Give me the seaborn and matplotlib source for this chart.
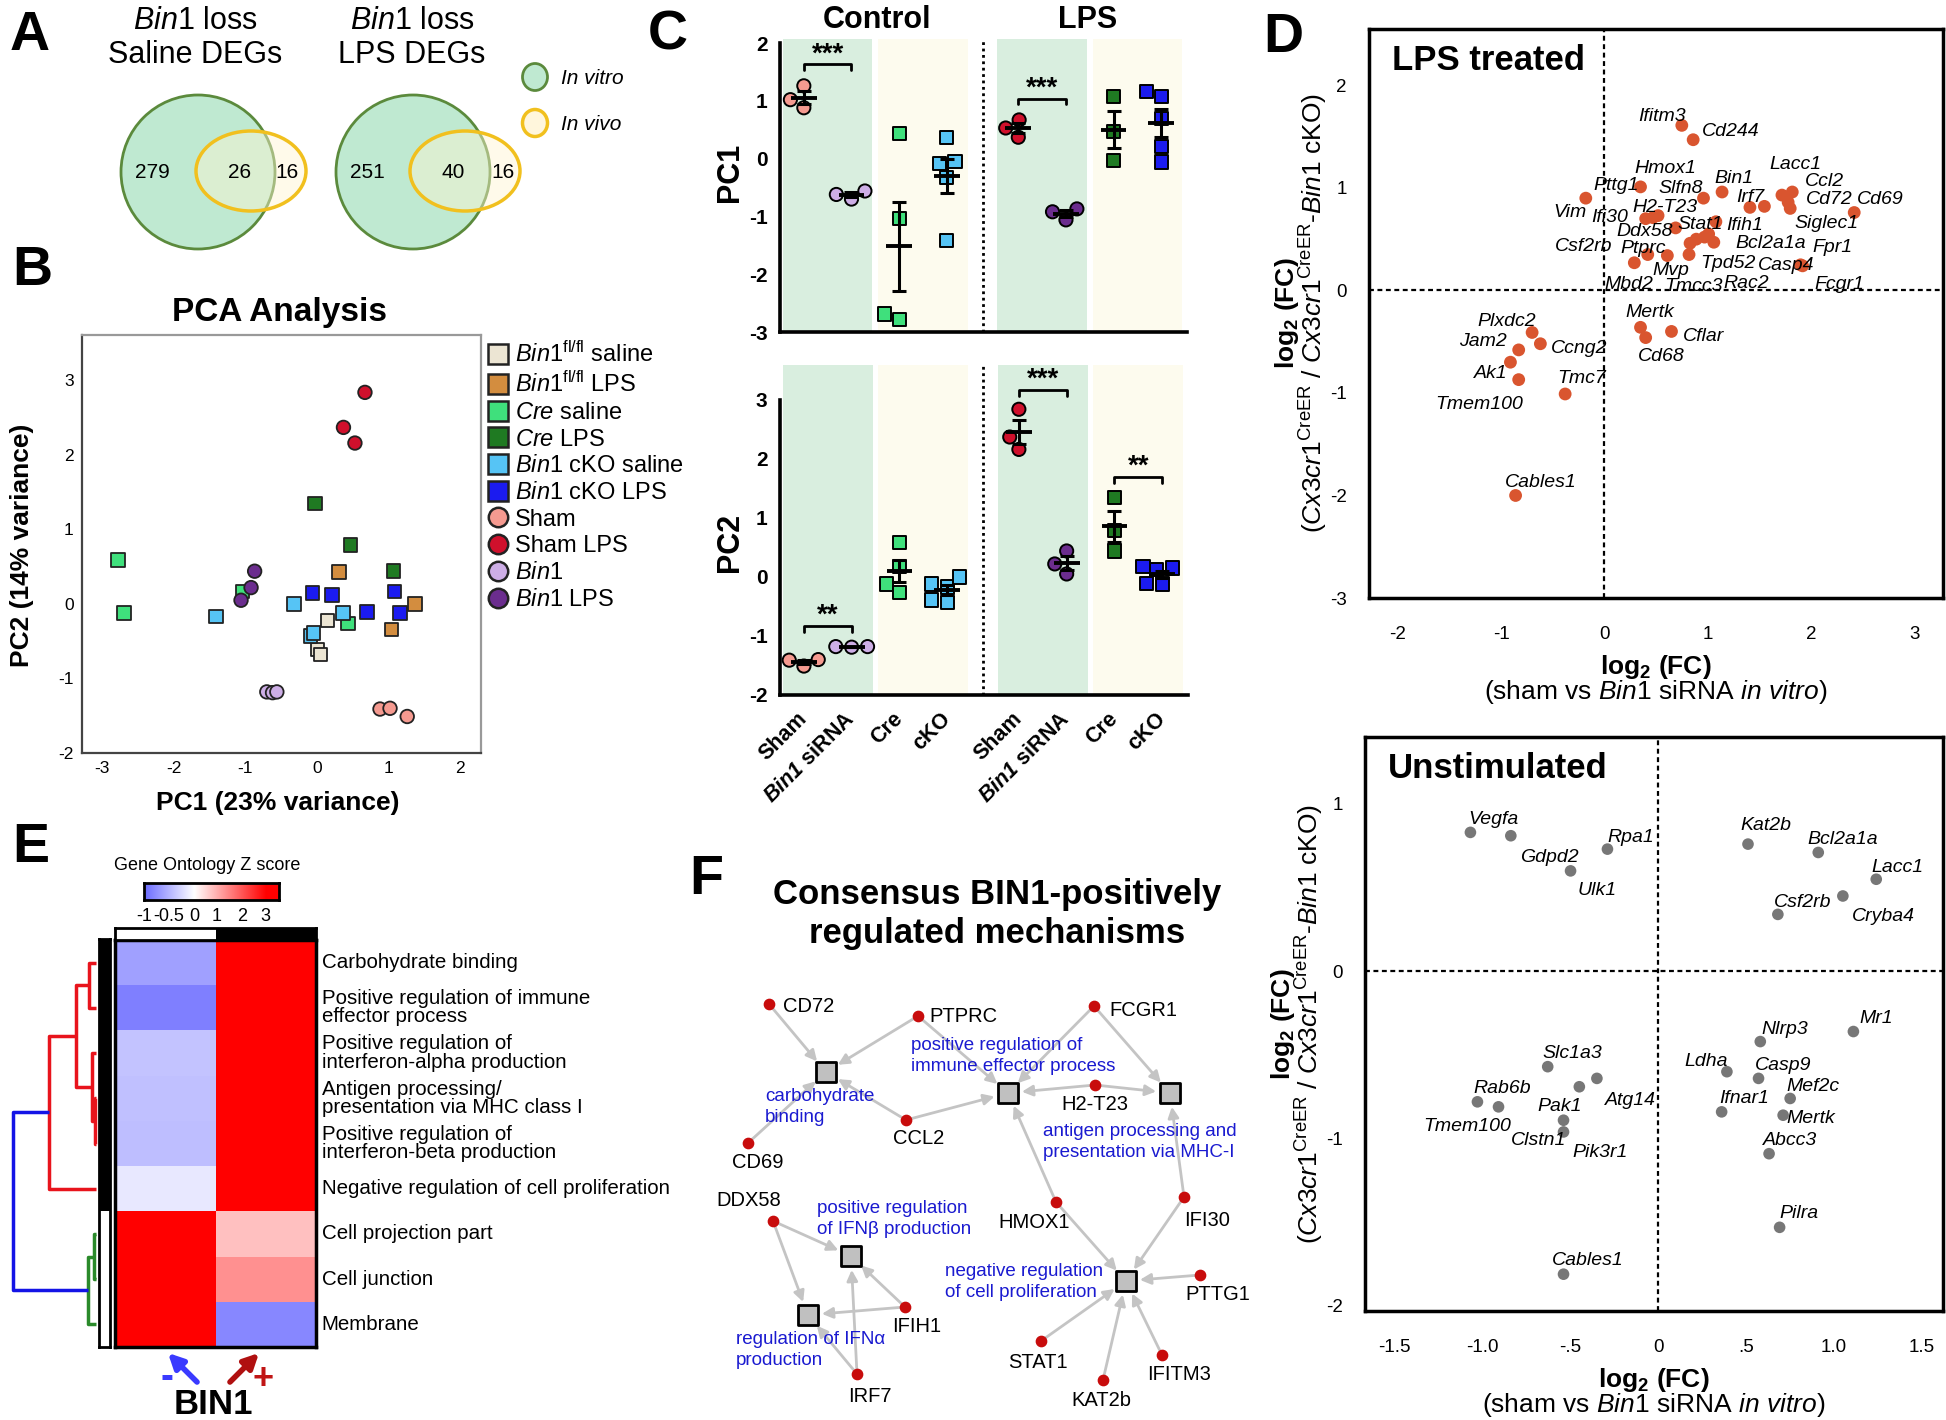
import numpy as np
import pandas as pd
import matplotlib
matplotlib.use("Agg")
import matplotlib.pyplot as plt
import seaborn as sns
from matplotlib.patches import Ellipse
from matplotlib.lines import Line2D
from matplotlib.colors import LinearSegmentedColormap, ListedColormap

sns.set_theme(style="white")
plt.rcParams["font.family"] = ["Liberation Sans", "DejaVu Sans"]
plt.rcParams["mathtext.fontset"] = "custom"
plt.rcParams["mathtext.rm"] = "Liberation Sans"
plt.rcParams["mathtext.it"] = "Liberation Sans:italic"
plt.rcParams["mathtext.bf"] = "Liberation Sans:bold"
plt.rcParams["mathtext.bfit"] = "Liberation Sans:italic:bold"
plt.rcParams["mathtext.sf"] = "Liberation Sans"
plt.rcParams["axes.unicode_minus"] = False
for k in ["text.color", "axes.labelcolor", "xtick.color", "ytick.color", "axes.edgecolor"]:
    plt.rcParams[k] = "black"

W, H = 1946, 1420

# ---------------- data ----------------
# A: DEG overlap in vitro / in vivo
venn_titles = [r"$\mathit{Bin1}$ loss" + "\nSaline DEGs", r"$\mathit{Bin1}$ loss" + "\nLPS DEGs"]
venn_vitro_only = [279, 251]
venn_shared = [26, 40]
venn_vivo_only = [16, 16]

# B / C: PCA coordinates per group
groups = ["fl saline", "fl LPS", "Cre saline", "Cre LPS", "cKO saline",
          "cKO LPS", "Sham", "Sham LPS", "Bin1", "Bin1 LPS"]
group_labels = [r"$\mathit{Bin1}^{\mathrm{fl/fl}}$ saline", r"$\mathit{Bin1}^{\mathrm{fl/fl}}$ LPS",
                r"$\mathit{Cre}$ saline", r"$\mathit{Cre}$ LPS", r"$\mathit{Bin1}$ cKO saline",
                r"$\mathit{Bin1}$ cKO LPS", "Sham", "Sham LPS", r"$\mathit{Bin1}$", r"$\mathit{Bin1}$ LPS"]
pc1_values = [[0.15, 0.01, 0.05], [0.31, 1.37, 1.04], [-2.78, -2.69, -1.04, 0.43],
              [-0.03, 0.47, 1.07], [-1.41, -0.32, 0.36, -0.09, -0.05],
              [-0.06, 0.21, 1.08, 0.70, 1.16], [0.88, 1.02, 1.26], [0.67, 0.37, 0.53],
              [-0.70, -0.62, -0.56], [-0.87, -0.92, -1.06]]
pc2_values = [[-0.22, -0.61, -0.68], [0.43, 0.00, -0.34], [0.59, -0.12, 0.17, -0.26],
              [1.35, 0.79, 0.44], [-0.17, 0.00, -0.12, -0.43, -0.39],
              [0.15, 0.12, 0.17, -0.11, -0.12], [-1.41, -1.40, -1.51], [2.84, 2.37, 2.16],
              [-1.18, -1.19, -1.18], [0.44, 0.22, 0.05]]
group_colors = ["#ece5d3", "#d38d3f", "#3fe07c", "#1f7a22", "#56c4f5",
                "#1b1bf0", "#f59a90", "#d0102c", "#cdaee6", "#6b2d8e"]
group_markers = ["s"] * 6 + ["o"] * 4

c_groups = ["Sham", "Bin1", "Cre saline", "cKO saline", "Sham LPS", "Bin1 LPS", "Cre LPS", "cKO LPS"]
c_ticklabels = ["Sham", r"$\mathbfit{Bin1}$ siRNA", "Cre", "cKO"] * 2
c_sig_pc1 = [("Sham", "Bin1", "***"), ("Sham LPS", "Bin1 LPS", "***")]
c_sig_pc2 = [("Sham", "Bin1", "**"), ("Sham LPS", "Bin1 LPS", "***"), ("Cre LPS", "cKO LPS", "**")]

# D: log2 fold changes
lps_genes = ["Ifitm3", "Cd244", "Pttg1", "Vim", "Slfn8", "Bin1", "Irf7", "Ifih1", "Lacc1", "Ccl2",
             "Cd72", "Siglec1", "Cd69", "H2-T23", "Hmox1", "Ifi30", "Ddx58", "Stat1", "Bcl2a1a",
             "Tpd52", "Rac2", "Fpr1", "Tmcc3", "Ptprc", "Mvp", "Csf2rb", "Mbd2", "Casp4", "Fcgr1",
             "Mertk", "Cd68", "Cflar", "Plxdc2", "Ccng2", "Jam2", "Tmem100", "Ak1", "Tmc7", "Cables1"]
lps_x = [0.75, 0.86, 0.35, -0.18, 0.96, 1.14, 1.41, 1.55, 1.72, 1.82, 1.78, 1.80, 2.42, 0.47, 0.52,
         0.40, 0.69, 1.08, 1.06, 0.83, 0.89, 0.97, 1.01, 0.42, 0.61, 0.29, 0.82, 1.92, 1.90,
         0.35, 0.40, 0.65, -0.70, -0.62, -0.83, -0.91, -0.83, -0.38, -0.86]
lps_y = [1.61, 1.47, 1.01, 0.90, 0.90, 0.96, 0.81, 0.82, 0.93, 0.96, 0.86, 0.80, 0.76, 0.71, 0.73,
         0.70, 0.61, 0.67, 0.47, 0.46, 0.50, 0.52, 0.55, 0.35, 0.34, 0.27, 0.35, 0.24, 0.25,
         -0.36, -0.46, -0.40, -0.41, -0.52, -0.58, -0.70, -0.87, -1.01, -2.00]

unstim_genes = ["Vegfa", "Gdpd2", "Rpa1", "Ulk1", "Kat2b", "Bcl2a1a", "Lacc1", "Cryba4", "Csf2rb",
                "Mr1", "Nlrp3", "Ldha", "Casp9", "Mef2c", "Ifnar1", "Mertk", "Abcc3", "Pilra",
                "Slc1a3", "Atg14", "Pak1", "Rab6b", "Tmem100", "Pik3r1", "Clstn1", "Cables1"]
unstim_x = [-1.07, -0.84, -0.29, -0.50, 0.51, 0.91, 1.24, 1.05, 0.68, 1.11, 0.58, 0.39, 0.57,
            0.75, 0.36, 0.71, 0.63, 0.69, -0.63, -0.35, -0.45, -1.03, -0.91, -0.54, -0.54, -0.54]
unstim_y = [0.83, 0.81, 0.73, 0.60, 0.76, 0.71, 0.55, 0.45, 0.34, -0.36, -0.42, -0.60, -0.64,
            -0.76, -0.84, -0.86, -1.09, -1.53, -0.57, -0.64, -0.69, -0.78, -0.81, -0.89, -0.96, -1.81]

# E: GO z-scores (BIN1 - / BIN1 +)
go_terms = ["Carbohydrate binding", "Positive regulation of immune\neffector process",
            "Positive regulation of\ninterferon-alpha production",
            "Antigen processing/\npresentation via MHC class I",
            "Positive regulation of\ninterferon-beta production",
            "Negative regulation of cell proliferation", "Cell projection part",
            "Cell junction", "Membrane"]
z_bin1_neg = [-0.64, -0.86, -0.40, -0.42, -0.43, -0.15, 3.5, 3.5, 3.5]
z_bin1_pos = [3.5, 3.5, 3.5, 3.5, 3.5, 3.5, 0.77, 1.32, -0.80]
cbar_values = [-1, -0.5, 0, 1, 2, 3]
# hierarchical merges: (child a, child b, height)
dendro_merges = [(0, 1, 7.0), (3, 4, 1.5), (2, 10, 4.0), (9, 11, 20.0), (12, 5, 47.0),
                 (6, 7, 2.0), (14, 8, 8.0), (13, 15, 83.0)]

# F: network
f_genes = ["CD72", "PTPRC", "FCGR1", "CCL2", "H2-T23", "CD69", "DDX58", "HMOX1", "IFI30",
           "IFIH1", "IRF7", "PTTG1", "STAT1", "KAT2b", "IFITM3"]
f_terms = ["carbohydrate\nbinding", "positive regulation of\nimmune effector process",
           "antigen processing and\npresentation via MHC-I", "positive regulation\nof IFNβ production",
           "regulation of IFNα\nproduction", "negative regulation\nof cell proliferation"]
f_edges = [("CD72", 0), ("PTPRC", 0), ("PTPRC", 1), ("CCL2", 0), ("CCL2", 1), ("CD69", 0),
           ("FCGR1", 1), ("FCGR1", 2), ("H2-T23", 1), ("H2-T23", 2), ("HMOX1", 1), ("HMOX1", 5),
           ("IFI30", 2), ("IFI30", 5), ("DDX58", 3), ("DDX58", 4), ("IFIH1", 3), ("IFIH1", 4),
           ("IRF7", 3), ("IRF7", 4), ("PTTG1", 5), ("STAT1", 5), ("KAT2b", 5), ("IFITM3", 5)]

# ---------------- layout (pixels) ----------------
lps_label_pos = {"Ifitm3": (0.56, 1.70), "Cd244": (1.22, 1.55), "Hmox1": (0.59, 1.19),
                 "Pttg1": (0.11, 1.02), "Slfn8": (0.74, 0.99), "Bin1": (1.26, 1.09),
                 "Lacc1": (1.85, 1.23), "Ccl2": (2.13, 1.06), "Irf7": (1.41, 0.91),
                 "Cd72": (2.18, 0.89), "Cd69": (2.67, 0.89), "Vim": (-0.33, 0.76),
                 "Ifi30": (0.05, 0.71), "H2-T23": (0.59, 0.81), "Stat1": (0.93, 0.64),
                 "Ifih1": (1.36, 0.63), "Siglec1": (2.15, 0.65), "Ddx58": (0.39, 0.57),
                 "Bcl2a1a": (1.61, 0.46), "Fpr1": (2.21, 0.42), "Csf2rb": (-0.20, 0.43),
                 "Ptprc": (0.38, 0.41), "Tpd52": (1.20, 0.26), "Casp4": (1.76, 0.24),
                 "Mvp": (0.64, 0.19), "Mbd2": (0.24, 0.06), "Tmcc3": (0.86, 0.04),
                 "Rac2": (1.37, 0.07), "Fcgr1": (2.28, 0.06), "Mertk": (0.44, -0.22),
                 "Cflar": (0.96, -0.45), "Cd68": (0.55, -0.64), "Plxdc2": (-0.95, -0.30),
                 "Jam2": (-1.18, -0.50), "Ccng2": (-0.24, -0.57), "Ak1": (-1.10, -0.81),
                 "Tmc7": (-0.22, -0.86), "Tmem100": (-1.21, -1.11), "Cables1": (-0.62, -1.87)}
unstim_label_pos = {"Vegfa": (-0.94, 0.91), "Gdpd2": (-0.62, 0.68), "Rpa1": (-0.16, 0.80),
                    "Ulk1": (-0.35, 0.48), "Kat2b": (0.61, 0.87), "Bcl2a1a": (1.05, 0.79),
                    "Lacc1": (1.36, 0.62), "Csf2rb": (0.82, 0.41), "Cryba4": (1.28, 0.33),
                    "Mr1": (1.24, -0.28), "Nlrp3": (0.72, -0.35), "Ldha": (0.27, -0.54),
                    "Casp9": (0.71, -0.56), "Mef2c": (0.88, -0.69), "Ifnar1": (0.49, -0.76),
                    "Mertk": (0.87, -0.88), "Abcc3": (0.75, -1.01), "Pilra": (0.80, -1.45),
                    "Slc1a3": (-0.49, -0.49), "Rab6b": (-0.89, -0.70), "Pak1": (-0.56, -0.81),
                    "Atg14": (-0.16, -0.77), "Tmem100": (-1.09, -0.93), "Clstn1": (-0.68, -1.01),
                    "Pik3r1": (-0.33, -1.08), "Cables1": (-0.40, -1.73)}
c_positions = dict(zip(c_groups, [0, 1, 2, 3, 4.5, 5.5, 6.5, 7.5]))
gene_xy = {"CD72": (769, 1004), "PTPRC": (918, 1016), "FCGR1": (1094, 1006), "CCL2": (906, 1120),
           "H2-T23": (1095, 1085), "CD69": (748, 1143), "DDX58": (773, 1221), "HMOX1": (1056, 1202),
           "IFI30": (1184, 1197), "IFIH1": (905, 1307), "IRF7": (857, 1374), "PTTG1": (1200, 1275),
           "STAT1": (1041, 1341), "KAT2b": (1103, 1380), "IFITM3": (1162, 1355)}
gene_label_xy = {"CD72": (783, 1006, "left"), "PTPRC": (929, 1016, "left"), "FCGR1": (1109, 1010, "left"),
                 "CCL2": (919, 1139, "center"), "H2-T23": (1095, 1104, "center"),
                 "CD69": (758, 1163, "center"), "DDX58": (749, 1201, "center"),
                 "HMOX1": (1034, 1222, "center"), "IFI30": (1207, 1221, "center"),
                 "IFIH1": (917, 1326, "center"), "IRF7": (870, 1396, "center"),
                 "PTTG1": (1218, 1295, "center"), "STAT1": (1038, 1362, "center"),
                 "KAT2b": (1101, 1400, "center"), "IFITM3": (1179, 1374, "center")}
term_xy = [(826, 1072), (1008, 1093), (1170, 1093), (851, 1256), (808, 1315), (1126, 1281)]
term_label_xy = [(765, 1107), (911, 1056), (1043, 1142), (817, 1219), (736, 1350), (945, 1282)]

fig = plt.figure(figsize=(W / 100, H / 100), dpi=100)


def px_axes(x0, y0, x1, y1):
    return fig.add_axes([x0 / W, 1 - y1 / H, (x1 - x0) / W, (y1 - y0) / H])


ov = px_axes(0, 0, W, H)
ov.set_xlim(0, W)
ov.set_ylim(H, 0)
ov.axis("off")
ov.patch.set_visible(False)
ov.set_zorder(10)

# panel letters
for letter, (lx, ly) in zip("ABCDEF", [(10, 50), (12, 285), (648, 50), (1263, 52), (12, 862), (689, 894)]):
    ov.text(lx, ly, letter, fontsize=40, fontweight="bold", va="baseline", ha="left")

# ---------------- A ----------------
green_cx, yellow_cx, venn_cy = [198, 413], [251, 465], 172
num_x = [[152, 240, 287], [367, 453, 503]]
for i in range(2):
    ov.add_patch(Ellipse((green_cx[i], venn_cy), 154, 154, facecolor="#bfe9d1", edgecolor="#5b8a3c", lw=2))
    ov.add_patch(Ellipse((yellow_cx[i], venn_cy - 1), 110, 80, facecolor=(1.0, 0.96, 0.82, 0.45),
                         edgecolor="#f1c01e", lw=2.5))
    ov.text([195, 412][i], 38, venn_titles[i], ha="center", va="center", fontsize=22, linespacing=1.15)
    for xx, val in zip(num_x[i], [venn_vitro_only[i], venn_shared[i], venn_vivo_only[i]]):
        ov.text(xx, venn_cy + 1, str(val), ha="center", va="center", fontsize=15)
ov.add_patch(Ellipse((535, 77), 25, 27, facecolor="#bfe9d1", edgecolor="#5b8a3c", lw=2))
ov.add_patch(Ellipse((535, 123), 25, 27, facecolor="#fff6dc", edgecolor="#f1c01e", lw=2.5))
ov.text(561, 78, "In vitro", style="italic", fontsize=15, va="center")
ov.text(561, 124, "In vivo", style="italic", fontsize=15, va="center")

# ---------------- B ----------------
pca_df = pd.DataFrame([{"group": g, "pc1": x, "pc2": y}
                       for g, xs, ys in zip(groups, pc1_values, pc2_values)
                       for x, y in zip(xs, ys)])
pal = dict(zip(groups, group_colors))
mk = dict(zip(groups, group_markers))

ax_b = px_axes(82, 335, 481, 753)
sns.scatterplot(data=pca_df, x="pc1", y="pc2", hue="group", style="group", palette=pal,
                markers=mk, s=95, edgecolor="#222222", linewidth=1.3, legend=False, ax=ax_b, zorder=3)
ax_b.set_xlim(-3.28, 2.29)
ax_b.set_ylim(-2.0, 3.61)
ax_b.set_xticks(range(-3, 3))
ax_b.set_yticks(range(-2, 4))
ax_b.set_xlabel("")
ax_b.set_ylabel("")
ax_b.tick_params(labelsize=12.5, length=0, pad=6)
for side, col in [("left", "#444444"), ("bottom", "#444444"), ("top", "#999999"), ("right", "#999999")]:
    ax_b.spines[side].set_color(col)
    ax_b.spines[side].set_linewidth(1.6)
handles = [Line2D([], [], ls="", marker=m, markersize=14, markerfacecolor=c,
                  markeredgecolor="#222222", markeredgewidth=1.8)
           for m, c in zip(group_markers, group_colors)]
ax_b.legend(handles, group_labels, loc="upper left", bbox_to_anchor=(490 / W, 1 - 342 / H),
            bbox_transform=fig.transFigure, frameon=False, fontsize=17, handlelength=0.7,
            handletextpad=0.35, labelspacing=0.2, borderaxespad=0, borderpad=0)
ov.text(279, 313, "PCA Analysis", ha="center", va="center", fontsize=24, fontweight="bold")
ov.text(278, 803, "PC1 (23% variance)", ha="center", va="center", fontsize=19, fontweight="bold")
ov.text(22, 545, "PC2 (14% variance)", ha="center", va="center", fontsize=19, fontweight="bold",
        rotation=90)

# ---------------- C ----------------
cdf = pca_df[pca_df["group"].isin(c_groups)].copy()
cdf["pos"] = cdf["group"].map(c_positions)
cdf["marker"] = cdf["group"].map(mk)
ax_c1 = px_axes(780, 39, 1187, 332)
ax_c2 = px_axes(780, 365, 1188, 695)
band_pairs = [(0, 1, "#d9eedf"), (2, 3, "#fdfbee"), (4.5, 5.5, "#d9eedf"), (6.5, 7.5, "#fdfbee")]
for ax, col, ylim, sigs, sig_y in [(ax_c1, "pc1", (-3, 2.07), c_sig_pc1, [1.63, 1.04]),
                                   (ax_c2, "pc2", (-2, 3.59), c_sig_pc2, [-0.83, 3.17, 1.69])]:
    for a, b, colr in band_pairs:
        ax.axvspan(a - 0.44, b + 0.44, color=colr, lw=0, zorder=0)
    ax.axvline(3.75, color="black", ls=(0, (1, 1.3)), lw=2, zorder=1)
    for m in ("o", "s"):
        sub = cdf[cdf["marker"] == m]
        sns.swarmplot(data=sub, x="pos", y=col, hue="group", palette=pal, native_scale=True,
                      marker=m, size=9.5, linewidth=1.4, edgecolor="black", legend=False,
                      ax=ax, zorder=3)
    stats = cdf.groupby("group")[col].agg(["mean", "sem"])
    for g, p in c_positions.items():
        mval, sval = stats.loc[g, "mean"], stats.loc[g, "sem"]
        ax.plot([p - 0.27, p + 0.27], [mval, mval], color="black", lw=2.8, zorder=4,
                solid_capstyle="butt")
        ax.errorbar(p, mval, yerr=sval, fmt="none", ecolor="black", elinewidth=2.2,
                    capsize=5, capthick=2.2, zorder=4)
    for (ga, gb, stars), yy in zip(sigs, sig_y):
        a, b = c_positions[ga], c_positions[gb]
        arm = 0.09 * (ylim[1] - ylim[0]) / 5
        ax.plot([a, a, b, b], [yy - arm, yy, yy, yy - arm], color="black", lw=2, zorder=4)
        ax.text((a + b) / 2, yy - 0.05, stars, ha="center", va="bottom", fontsize=20,
                fontweight="bold", zorder=5)
    ax.set_xlim(-0.5, 8.04)
    ax.set_ylim(*ylim)
    ax.set_yticks(range(int(ylim[0]), int(ylim[0]) + 6))
    ax.set_xticks(list(c_positions.values()))
    ax.set_xlabel("")
    ax.set_ylabel("")
    sns.despine(ax=ax)
    ax.spines["left"].set_bounds(ylim[0], ylim[0] + 5)
    for s in ("left", "bottom"):
        ax.spines[s].set_linewidth(2.6)
        ax.spines[s].set_color("black")
    ax.tick_params(axis="both", direction="out", length=6, width=2.5, labelsize=15, pad=3)
    ax.tick_params(axis="x", length=7)
    for lbl in ax.get_yticklabels():
        lbl.set_fontweight("bold")
ax_c1.set_xticklabels([])
ax_c2.set_xticklabels(c_ticklabels, rotation=45, ha="right", va="center",
                      rotation_mode="anchor", fontsize=15.5, fontweight="bold")
ax_c2.tick_params(axis="x", pad=8)
ov.text(877, 20, "Control", ha="center", va="center", fontsize=22, fontweight="bold")
ov.text(1088, 20, "LPS", ha="center", va="center", fontsize=22, fontweight="bold")
ov.text(730, 172, "PC1", ha="center", va="center", fontsize=22, fontweight="bold", rotation=90)
ov.text(730, 542, "PC2", ha="center", va="center", fontsize=22, fontweight="bold", rotation=90)

# ---------------- D ----------------
ylab2 = (r"($\mathit{Cx3cr1}^{\mathrm{CreER}}$ / $\mathit{Cx3cr1}^{\mathrm{CreER}}$-"
         r"$\mathit{Bin1}$ cKO)")
xlab2 = r"(sham vs $\mathit{Bin1}$ siRNA $\mathit{in\ vitro}$)"
d_specs = [
    ((1369, 29, 1943, 598), lps_genes, lps_x, lps_y, lps_label_pos, "#d9552f", 85,
     (-2.28, 3.28), (-3, 2.55), list(range(-2, 4)), [str(v) for v in range(-2, 4)],
     list(range(-3, 3)), "LPS treated"),
    ((1365, 737, 1943, 1311), unstim_genes, unstim_x, unstim_y, unstim_label_pos, "#777777", 70,
     (-1.67, 1.62), (-2.03, 1.40), [-1.5, -1.0, -0.5, 0, 0.5, 1.0, 1.5],
     ["-1.5", "-1.0", "-.5", "0", ".5", "1.0", "1.5"], [-2, -1, 0, 1], "Unstimulated"),
]
for (box, genes, xs, ys, lpos, colr, size, xl, yl, xt, xtl, yt, title) in d_specs:
    ax = px_axes(*box)
    ax.axhline(0, color="black", ls=(0, (2.2, 1.6)), lw=1.6, zorder=1)
    ax.axvline(0, color="black", ls=(0, (2.2, 1.6)), lw=1.6, zorder=1)
    sns.scatterplot(x=xs, y=ys, color=colr, s=size, edgecolor="none", ax=ax, zorder=3)
    for g in genes:
        tx, ty = lpos[g]
        ax.text(tx, ty, g, style="italic", fontsize=14, ha="center", va="center", zorder=4)
    ax.set_xlim(*xl)
    ax.set_ylim(*yl)
    ax.set_xticks(xt)
    ax.set_xticklabels(xtl)
    ax.set_yticks(yt)
    for s in ax.spines.values():
        s.set_linewidth(2.5)
        s.set_color("black")
    ax.tick_params(axis="both", direction="out", color="#b3b3b3", width=2.3, labelsize=13.5)
    ax.tick_params(axis="x", length=12, pad=8)
    ax.tick_params(axis="y", length=14, pad=2)
    ax.text(0.04, 0.945, title, transform=ax.transAxes, fontsize=25, fontweight="bold",
            ha="left", va="center")
    cy = (box[1] + box[3]) / 2
    cx = (box[0] + box[2]) / 2
    ov.text(box[0] - 82, cy, r"$\mathbf{log_{2}}$ (FC)", rotation=90, ha="center", va="center",
            fontsize=19, fontweight="bold")
    ov.text(box[0] - 55, cy, ylab2, rotation=90, ha="center", va="center", fontsize=19)
    ov.text(cx, box[3] + 69, r"$\mathbf{log_{2}}$ (FC)", ha="center", va="center", fontsize=19,
            fontweight="bold")
    ov.text(cx, box[3] + 94, xlab2, ha="center", va="center", fontsize=19)

# ---------------- E ----------------
cbar_pos = [0.0, 0.185, 0.37, 0.54, 0.726, 0.90]
cmap = LinearSegmentedColormap.from_list("go", [(0.0, "#6b6bff"), (0.37, "#ffffff"),
                                                (0.90, "#ff0000"), (1.0, "#ff0000")])
ax_cb = px_axes(144, 883, 279, 900)
ax_cb.imshow(np.linspace(0, 1, 256)[None, :], cmap=cmap, aspect="auto", extent=[0, 1, 0, 1])
ax_cb.set_xticks(cbar_pos)
ax_cb.set_xticklabels([str(v) for v in cbar_values])
ax_cb.set_yticks([])
ax_cb.tick_params(axis="x", direction="out", length=4, width=1.5, labelsize=13, pad=2)
for s in ax_cb.spines.values():
    s.set_linewidth(2)
ov.text(207, 866, "Gene Ontology Z score", ha="center", va="center", fontsize=13)

heat = pd.DataFrame({"neg": np.interp(z_bin1_neg, cbar_values, cbar_pos, right=1.0),
                     "pos": np.interp(z_bin1_pos, cbar_values, cbar_pos, right=1.0)},
                    index=go_terms)
ax_hm = px_axes(115, 940, 316, 1347)
sns.heatmap(heat, cmap=cmap, vmin=0, vmax=1, cbar=False, xticklabels=False, ax=ax_hm)
ax_hm.yaxis.tick_right()
ax_hm.set_yticklabels(go_terms, rotation=0, ha="left", va="center", fontsize=14.8, linespacing=0.95)
ax_hm.tick_params(axis="y", length=0, pad=4)
ax_hm.set_ylabel("")
for s in ax_hm.spines.values():
    s.set_visible(True)
    s.set_linewidth(2.5)
    s.set_color("black")

ax_top = px_axes(115, 928, 316, 940)
sns.heatmap([[0, 1]], cmap=ListedColormap(["white", "black"]), cbar=False, xticklabels=False,
            yticklabels=False, ax=ax_top)
ax_side = px_axes(99, 939, 110, 1347)
sns.heatmap(np.array([[1] * 6 + [0] * 3]).T, cmap=ListedColormap(["white", "black"]), cbar=False,
            xticklabels=False, yticklabels=False, ax=ax_side)
for a in (ax_top, ax_side):
    for s in a.spines.values():
        s.set_visible(True)
        s.set_linewidth(2)
        s.set_color("black")

ax_den = px_axes(0, 940, 99, 1347)
node_y = {i: i + 0.5 for i in range(9)}
node_h = {i: 0.0 for i in range(9)}
dendro_colors = ["#e8141c"] * 5 + ["#2a8a2a"] * 2 + ["#1414e6"]
for k, (a, b, h) in enumerate(dendro_merges):
    ax_den.plot([node_h[a], h, h, node_h[b]], [node_y[a], node_y[a], node_y[b], node_y[b]],
                color=dendro_colors[k], lw=2.5, solid_capstyle="butt")
    node_y[9 + k] = (node_y[a] + node_y[b]) / 2
    node_h[9 + k] = h
ax_den.set_xlim(96, -3)
ax_den.set_ylim(9, 0)
ax_den.axis("off")

ov.annotate("", xy=(166, 1351), xytext=(199, 1384),
            arrowprops=dict(arrowstyle="-|>", color="#3a3aff", lw=4, mutation_scale=22))
ov.annotate("", xy=(261, 1351), xytext=(228, 1384),
            arrowprops=dict(arrowstyle="-|>", color="#b01010", lw=4, mutation_scale=22))
ov.text(167, 1378, "-", color="#3a3aff", fontsize=28, fontweight="bold", ha="center", va="center")
ov.text(263, 1379, "+", color="#c01515", fontsize=26, fontweight="bold", ha="center", va="center")
ov.text(213, 1404, "BIN1", fontsize=25, fontweight="bold", ha="center", va="center")

# ---------------- F ----------------
ov.text(997, 914, "Consensus BIN1-positively\nregulated mechanisms", ha="center", va="center",
        fontsize=25, fontweight="bold", linespacing=1.25)
for g, t in f_edges:
    ov.annotate("", xy=term_xy[t], xytext=gene_xy[g],
                arrowprops=dict(arrowstyle="-|>", color="#c4c4c4", lw=2, mutation_scale=16,
                                shrinkA=4, shrinkB=10), zorder=1)
ov.scatter([gene_xy[g][0] for g in f_genes], [gene_xy[g][1] for g in f_genes], s=55,
           color="#c80c0c", zorder=3)
ov.scatter([p[0] for p in term_xy], [p[1] for p in term_xy], s=200, marker="s",
           facecolor="#c0c0c0", edgecolor="black", linewidth=2, zorder=3)
for g in f_genes:
    lx, ly, ha = gene_label_xy[g]
    ov.text(lx, ly, g, fontsize=14.5, ha=ha, va="center", zorder=4)
for t, (lx, ly) in zip(f_terms, term_label_xy):
    ov.text(lx, ly, t, fontsize=13.5, color="#1a1ad0", ha="left", va="center",
            linespacing=1.25, zorder=4)

fig.savefig("out.png", dpi=100)
